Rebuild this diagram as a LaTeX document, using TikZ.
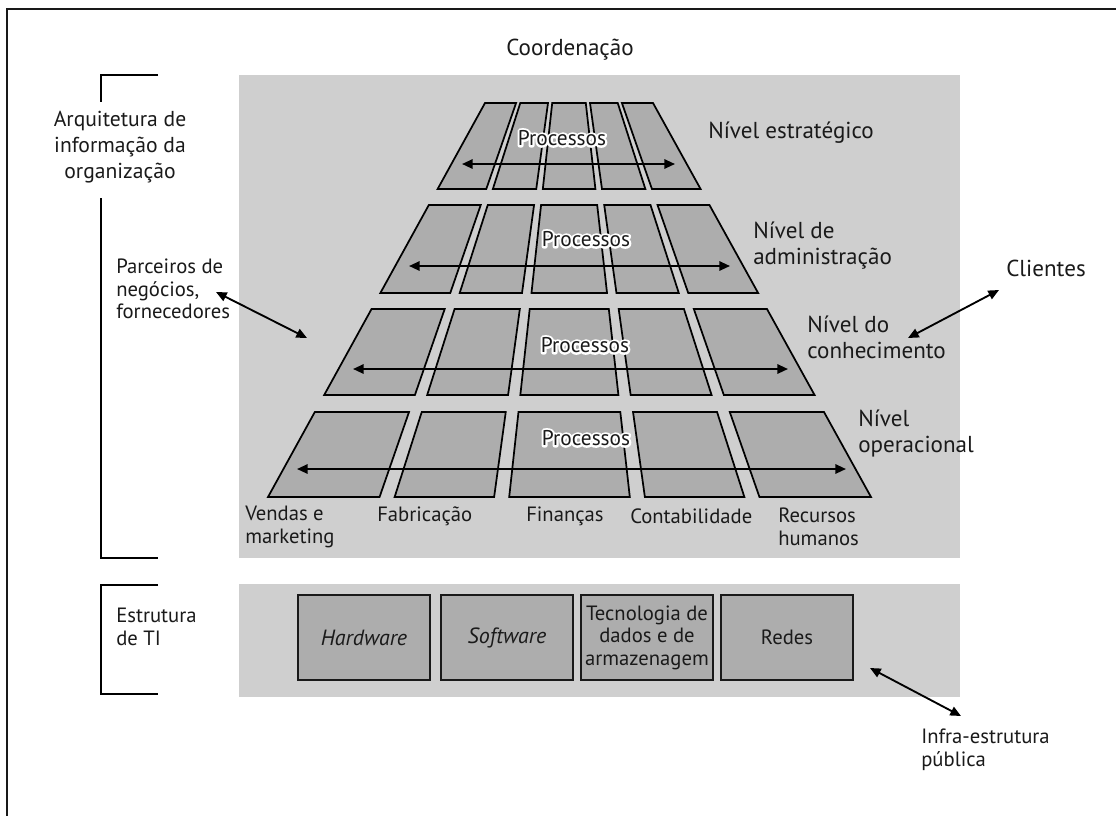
\documentclass[tikz,border=0pt]{standalone}
\usepackage{fontspec}
\setmainfont{PT Sans}
\usetikzlibrary{arrows.meta,calc}

\definecolor{txt}{HTML}{1A1A1A}
\definecolor{panel}{HTML}{CFCFCF}
\definecolor{cellgray}{HTML}{ADADAD}

% text with a white outline: a stroked white copy under the filled text
\newcommand{\haloword}[1]{\leavevmode
  \rlap{\special{pdf:literal direct 1 1 1 RG 3.2 w 1 j 1 Tr}#1\special{pdf:literal direct 0 Tr}}#1}

\begin{document}
\begin{tikzpicture}[x=0.75pt,y=-0.75pt,
  every node/.style={inner sep=0pt, text=txt},
  big/.style={font=\fontsize{17.3}{19.5}\selectfont},
  arqfont/.style={font=\fontsize{16.2}{19.5}\selectfont},
  small/.style={font=\fontsize{15.5}{16.9}\selectfont},
  frame/.style={line width=1.7pt, draw=black!90},
  bracket/.style={line width=1.5pt, draw=black},
  cell/.style={fill=cellgray, draw=black, line width=1.3pt, line join=miter},
  itbox/.style={fill=cellgray, draw=black!90, line width=1.8pt, minimum width=99pt,
    minimum height=63.75pt, align=center, font=\fontsize{15.5}{16.9}\selectfont},
  itlabel/.style={font=\fontsize{16.5}{16.9}\selectfont\itshape},
  dbl/.style={line width=1.4pt, draw=black, {Triangle[length=8pt,width=7pt]}-{Triangle[length=8pt,width=7pt]}},
  proc/.style={font=\fontsize{16}{18}\selectfont}
]
\useasboundingbox (0,0) rectangle (1116,815);
\clip (0,0) rectangle (1116,815);
\fill[white] (0,0) rectangle (1116,815);

% outer frame (only its top and left sides fall inside the page)
\draw[frame] (7,840) -- (7,9) -- (1140,9);

% grey panels
\fill[panel] (239,75) rectangle (960,558);
\fill[panel] (239,584) rectangle (960,697);

% brackets on the left
\draw[bracket] (158,75) -- (101,75) -- (101,102);
\draw[bracket] (101,198) -- (101,558) -- (158,558);
\draw[bracket] (158,585) -- (101,585) -- (101,694) -- (158,694);

% the grid of processes: four levels, five functional areas
\foreach \ya/\yb in {103/189, 205/293, 309/395, 412/497} {
  \foreach \fa/\fb in {0/0.185, 0.21/0.375, 0.4/0.6, 0.625/0.79, 0.815/1} {
    \pgfmathsetmacro\xla{485-(\ya-103)/394*217}
    \pgfmathsetmacro\xra{653+(\ya-103)/394*218}
    \pgfmathsetmacro\xlb{485-(\yb-103)/394*217}
    \pgfmathsetmacro\xrb{653+(\yb-103)/394*218}
    \pgfmathsetmacro\pa{\xla+\fa*(\xra-\xla)}
    \pgfmathsetmacro\pb{\xla+\fb*(\xra-\xla)}
    \pgfmathsetmacro\pc{\xlb+\fb*(\xrb-\xlb)}
    \pgfmathsetmacro\pd{\xlb+\fa*(\xrb-\xlb)}
    \draw[cell] (\pa,\ya) -- (\pb,\ya) -- (\pc,\yb) -- (\pd,\yb) -- cycle;
  }
}

% process arrows across each level
\coordinate (a1l) at (462,164); \coordinate (a1r) at (675,164);
\coordinate (a2l) at (409,266); \coordinate (a2r) at (730,266);
\coordinate (a3l) at (353,369); \coordinate (a3r) at (788,369);
\coordinate (a4l) at (297,469); \coordinate (a4r) at (846,469);
\draw[dbl, line width=1.5pt] (a1l) -- (a1r);
\draw[dbl, line width=1.5pt] (a2l) -- (a2r);
\draw[dbl, line width=1.5pt] (a3l) -- (a3r);
\draw[dbl, line width=1.5pt] (a4l) -- (a4r);

\node[proc] (p1) at (562,138) {\haloword{Processos}};
\node[proc] (p2) at (586,239) {\haloword{Processos}};
\node[proc] (p3) at (585,345) {\haloword{Processos}};
\node[proc] (p4) at (586,438) {\haloword{Processos}};

% titles and labels
\node[big] (coord) at (570,50) {Coordenação};
\node[arqfont, align=center] (arq) at (120,147) {Arquitetura de\\informação da\\organização};
\node[small, anchor=west, align=left] (parc) at (116,289) {Parceiros de\\negócios,\\fornecedores};
\node[big, anchor=west] (cli) at (1006,268) {Clientes};
\node[small, anchor=west, align=left] (estr) at (116,627) {Estrutura\\de TI};
\node[small, anchor=west, align=left] (infra) at (921,750) {Infra-estrutura\\pública};

\node[big, anchor=west] (n1) at (708,133) {Nível estratégico};
\node[big, anchor=west, align=left] (n2) at (753,246) {Nível de\\administração};
\node[big, anchor=west, align=left] (n3) at (807,337) {Nível do\\conhecimento};
\node[big, anchor=west, align=left] (n4) at (858,433) {Nível\\operacional};

\node[small, anchor=west, align=left] (d1) at (245,527) {Vendas e\\marketing};
\node[small, anchor=west] (d2) at (377,516) {Fabricação};
\node[small, anchor=west] (d3) at (526,516) {Finanças};
\node[small, anchor=west] (d4) at (630,516) {Contabilidade};
\node[small, anchor=west, align=left] (d5) at (778,527) {Recursos\\humanos};

% IT infrastructure components
\node[itbox] (hw) at (364,637.5) {};
\node[itlabel] (hwt) at (hw) {Hardware};
\node[itbox] (sw) at (507,637.5) {};
\node[itlabel] (swt) at (sw) {Software};
\node[itbox] (tec) at (647,637.5) {Tecnologia de\\dados e de\\armazenagem};
\node[itbox] (red) at (787,637.5) {Redes};

% links to the outside world
\coordinate (parcEnd) at (216,292); \coordinate (parcIn) at (307,338);
\coordinate (cliEnd) at (999,290); \coordinate (cliIn) at (908,338);
\coordinate (infIn) at (870,668); \coordinate (infEnd) at (961,716);
\draw[dbl] (parcEnd) -- (parcIn);
\draw[dbl] (cliEnd) -- (cliIn);
\draw[dbl] (infIn) -- (infEnd);
\end{tikzpicture}
\end{document}
